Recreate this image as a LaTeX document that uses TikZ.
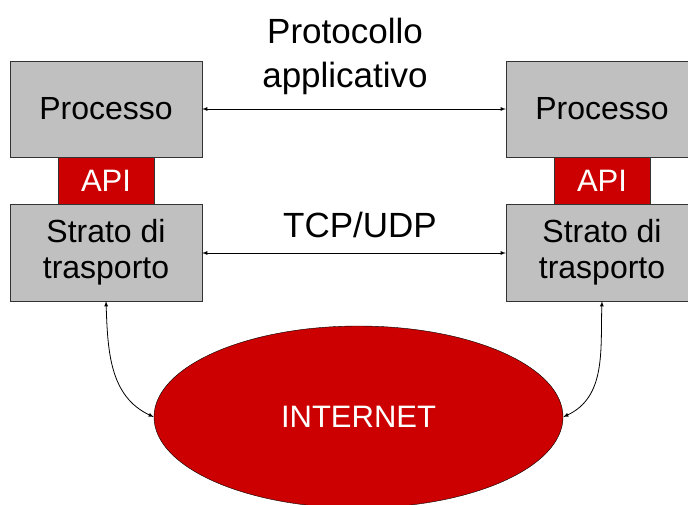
\documentclass[tikz,border=0pt]{standalone}
\usepackage{fontspec}
\setmainfont{Liberation Sans}
\usetikzlibrary{shapes.geometric, arrows}

\definecolor{grigio}{RGB}{192,192,192}
\definecolor{rosso}{RGB}{204,0,0}

\tikzset{
  livello/.style={draw=black!80, fill=grigio, minimum width=192pt, minimum height=96pt, inner sep=0pt, align=center, font=\fontsize{32}{36}\selectfont},
  api/.style={draw=black!80, fill=rosso, text=white, minimum width=96pt, minimum height=47pt, inner sep=0pt, font=\fontsize{31}{37}\selectfont},
  etichetta/.style={align=center, inner sep=0pt, font=\fontsize{35}{44}\selectfont},
  freccia/.style={<->, >=latex, line width=0.8pt}
}

\begin{document}
\begin{tikzpicture}[x=1pt,y=-1pt]
\clip (0,0) rectangle (688,504);
\fill[white] (0,0) rectangle (688,504);

% i due host
\node[livello] (proc1) at (106,109) {Processo};
\node[livello] (proc2) at (602,109) {Processo};
\node[api] (api1) at (106,180.5) {API};
\node[api] (api2) at (602,180.5) {API};
\node[livello, minimum height=97pt] (tras1) at (106,252.5) {Strato di\\trasporto};
\node[livello, minimum height=97pt] (tras2) at (602,252.5) {Strato di\\trasporto};

% la rete
\node[ellipse, draw=black, fill=rosso, minimum width=409pt, minimum height=182pt, inner sep=0pt, text=white, font=\fontsize{31}{37}\selectfont] (net) at (358.5,417) {INTERNET};

% le frecce
\draw[freccia] (proc1.east) -- (proc2.west);
\draw[freccia] (proc1.east |- 0,253) coordinate (t1) -- (proc2.west |- 0,253) coordinate (t2);
\draw[freccia] (tras1.south) to[out=-88, in=155] (net.west);
\draw[freccia] (tras2.south) to[out=-92, in=25] (net.east);

% le etichette
\node[etichetta] (lab1) at (345,56) {Protocollo\\applicativo};
\node[etichetta, anchor=base] (lab2) at (360,237) {TCP/UDP};
\end{tikzpicture}
\end{document}
